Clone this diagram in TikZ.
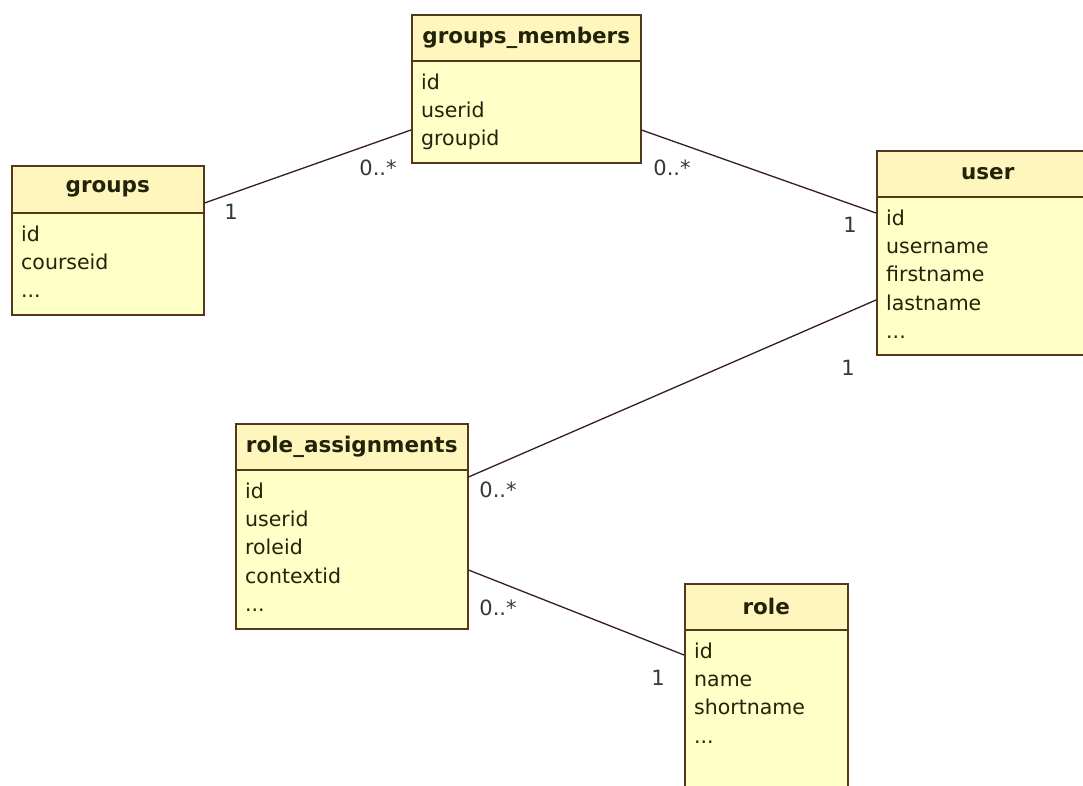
\documentclass[tikz,border=0pt]{standalone}
\usepackage{fontspec}
\setmainfont{DejaVu Sans}
\usetikzlibrary{calc}

\definecolor{bodyfill}{RGB}{255,255,200}
\definecolor{headfill}{RGB}{255,246,190}
\definecolor{edge}{RGB}{85,55,25}
\definecolor{ink}{RGB}{35,35,10}
\definecolor{linkcol}{RGB}{55,30,30}
\definecolor{multcol}{RGB}{55,55,55}

\tikzset{
  classbox/.style={draw=edge, line width=1.5pt, fill=bodyfill, rectangle,
    inner sep=0pt, anchor=north west},
  headbox/.style={draw=edge, line width=1.5pt, fill=headfill, rectangle,
    inner sep=0pt, anchor=north west, text=ink,
    font=\fontsize{21.5}{24}\selectfont\bfseries},
  fields/.style={font=\fontsize{20.5}{28.3}\selectfont, text=ink, align=left,
    anchor=north west, inner sep=0pt},
  link/.style={draw=linkcol, line width=1.3pt},
  mult/.style={font=\fontsize{21}{24}\selectfont, text=multcol, inner sep=0pt},
}

% #1 name, #2 left, #3 top, #4 width, #5 height, #6 header height, #7 title, #8 fields
\newcommand\umlclass[8]{%
  \node[classbox, minimum width=#4pt, minimum height=#5pt] (#1) at (#2,#3) {};
  \node[headbox, minimum width=#4pt, minimum height=#6pt] (#1-head) at (#1.north west) {#7};
  \node[fields] (#1-fields) at ($(#1-head.south west)+(10,12)$) {#8};
}

\begin{document}
\begin{tikzpicture}[x=1pt,y=-1pt]
  \useasboundingbox (0,0) rectangle (1083,785);
  \fill[white] (0,0) rectangle (1083,785);
  \clip (0,0) rectangle (1083,785);

  % entity boxes
  \umlclass{gm}{411}{14}{229}{148}{46}{groups\_members}{id\\userid\\groupid}
  \umlclass{grp}{11}{165}{192}{149}{47}{groups}{id\\courseid\\...}
  \umlclass{user}{876}{150}{222}{204}{46}{user}{id\\username\\firstname\\lastname\\...}
  \umlclass{ra}{235}{423}{232}{205}{46}{role\_assignments}{id\\userid\\roleid\\contextid\\...}
  \umlclass{role}{684}{583}{163}{225}{46}{role}{id\\name\\shortname\\...}

  % associations
  \draw[link] ($(grp.north east)+(0,38)$) -- ($(gm.north west)+(0,116)$);
  \draw[link] ($(gm.north east)+(0,116)$) -- ($(user.north west)+(0,63)$);
  \draw[link] ($(user.north west)+(0,150)$) -- ($(ra.north east)+(0,54)$);
  \draw[link] ($(ra.north east)+(0,147)$) -- ($(role.north west)+(0,72)$);

  % multiplicities
  \node[mult] (m1) at (231,212) {1};
  \node[mult] (m2) at (378,168) {0..*};
  \node[mult] (m3) at (672,168) {0..*};
  \node[mult] (m4) at (850,225) {1};
  \node[mult] (m5) at (848,368) {1};
  \node[mult] (m6) at (498,490) {0..*};
  \node[mult] (m7) at (498,608) {0..*};
  \node[mult] (m8) at (658,678) {1};
\end{tikzpicture}
\end{document}
